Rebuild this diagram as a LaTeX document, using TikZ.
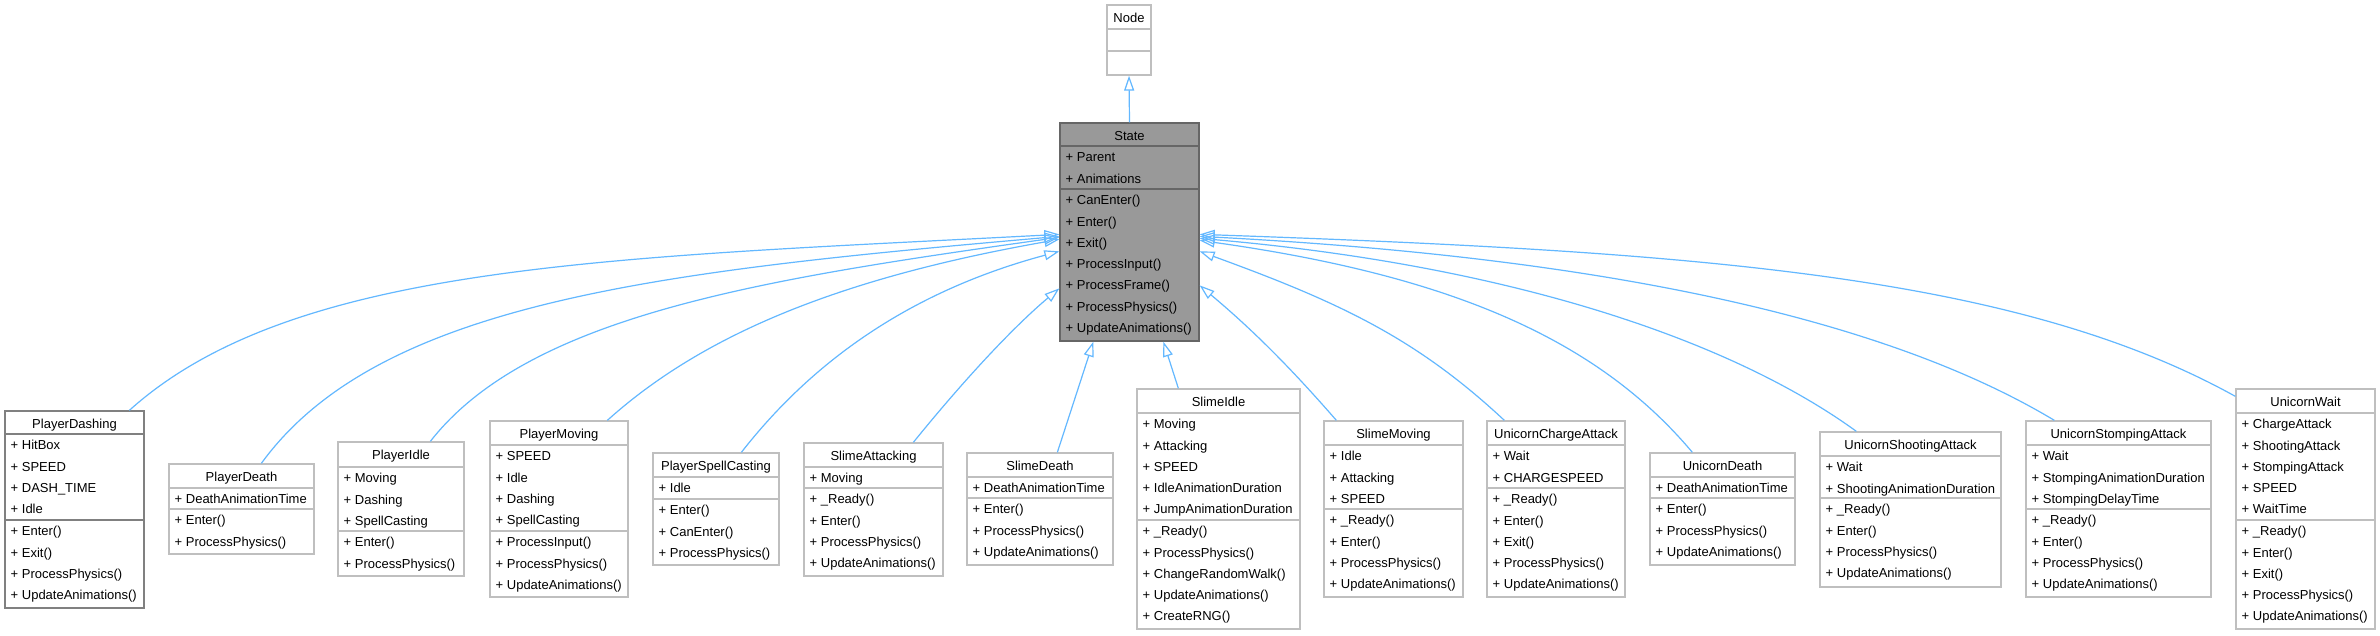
\documentclass[tikz,border=0pt]{standalone}
\usepackage{fontspec}
\setmainfont{Liberation Sans}
\usetikzlibrary{arrows.meta,fit}
\definecolor{edgec}{HTML}{63B8FF}
\definecolor{lightb}{HTML}{BFBFBF}
\definecolor{darkb}{HTML}{666666}
\definecolor{midb}{HTML}{808080}
\definecolor{statefill}{HTML}{999999}
\tikzset{
  lightbox/.style={draw=lightb, fill=white, line width=1.3pt},
  darkbox/.style={draw=midb, fill=white, line width=1.3pt},
  statebox/.style={draw=darkb, fill=statefill, line width=1.3pt},
  txt/.style={inner sep=0pt, font=\fontsize{13}{15}\selectfont},
  titletext/.style={txt, anchor=base},
  membertext/.style={txt, anchor=base west},
  edge/.style={draw=edgec, line width=1.2pt, -{Triangle[open, length=15pt, width=10pt]}}
}
% #1 name, #2 style, #3 left, #4 right, #5 top, #6 title divider, #7 member divider, #8 bottom, #9 title
\newcommand\umlbox[9]{%
  \coordinate (#1-nw) at (#3,-#5);
  \coordinate (#1-se) at (#4,-#8);
  \node[#2, fit=(#1-nw)(#1-se), inner sep=0pt] (#1) {};
  \draw[#2, fill=none] (#3,-#6) -- (#4,-#6);
  \draw[#2, fill=none] (#3,-#7) -- (#4,-#7);
  \node[titletext] (#1-title) at ({(#3+#4)/2},{-(#5+17.5)}) {#9};
}
% #1 name, #2 left, #3 section top, #4 list
\newcommand\umlmembers[4]{%
  \foreach \t [count=\i from 0] in {#4} {
    \node[membertext] (#1-#3-\i) at ({#2+5.5},{-(#3+15.7+21.3*\i)}) {+ \t};
  }
}
\begin{document}
\begin{tikzpicture}[x=1pt, y=1pt]
\useasboundingbox (0,0) rectangle (2380,-635);
\fill[white] (0,0) rectangle (2380,-635);

\umlbox{Node}{lightbox}{1107}{1151}{5}{29}{51}{75}{Node}

\umlbox{State}{statebox}{1060}{1199}{123}{146}{189}{341}{State}
\umlmembers{State}{1060}{146}{Parent,Animations}
\umlmembers{State}{1060}{189}{CanEnter(),Enter(),Exit(),ProcessInput(),ProcessFrame(),ProcessPhysics(),UpdateAnimations()}

\umlbox{PlayerDashing}{darkbox}{5}{144}{411}{434}{520}{608}{PlayerDashing}
\umlmembers{PlayerDashing}{5}{434}{HitBox,SPEED,DASH\_TIME,Idle}
\umlmembers{PlayerDashing}{5}{520}{Enter(),Exit(),ProcessPhysics(),UpdateAnimations()}

\umlbox{PlayerDeath}{lightbox}{169}{314}{464}{488}{509}{554}{PlayerDeath}
\umlmembers{PlayerDeath}{169}{488}{DeathAnimationTime}
\umlmembers{PlayerDeath}{169}{509}{Enter(),ProcessPhysics()}

\umlbox{PlayerIdle}{lightbox}{338}{464}{442}{467}{531}{576}{PlayerIdle}
\umlmembers{PlayerIdle}{338}{467}{Moving,Dashing,SpellCasting}
\umlmembers{PlayerIdle}{338}{531}{Enter(),ProcessPhysics()}

\umlbox{PlayerMoving}{lightbox}{490}{628}{421}{445}{531}{597}{PlayerMoving}
\umlmembers{PlayerMoving}{490}{445}{SPEED,Idle,Dashing,SpellCasting}
\umlmembers{PlayerMoving}{490}{531}{ProcessInput(),ProcessPhysics(),UpdateAnimations()}

\umlbox{PlayerSpellCasting}{lightbox}{653}{779}{453}{477}{499}{565}{PlayerSpellCasting}
\umlmembers{PlayerSpellCasting}{653}{477}{Idle}
\umlmembers{PlayerSpellCasting}{653}{499}{Enter(),CanEnter(),ProcessPhysics()}

\umlbox{SlimeAttacking}{lightbox}{804}{943}{443}{467}{488}{576}{SlimeAttacking}
\umlmembers{SlimeAttacking}{804}{467}{Moving}
\umlmembers{SlimeAttacking}{804}{488}{\_Ready(),Enter(),ProcessPhysics(),UpdateAnimations()}

\umlbox{SlimeDeath}{lightbox}{967}{1113}{453}{477}{498}{565}{SlimeDeath}
\umlmembers{SlimeDeath}{967}{477}{DeathAnimationTime}
\umlmembers{SlimeDeath}{967}{498}{Enter(),ProcessPhysics(),UpdateAnimations()}

\umlbox{SlimeIdle}{lightbox}{1137}{1300}{389}{413}{520}{629}{SlimeIdle}
\umlmembers{SlimeIdle}{1137}{413}{Moving,Attacking,SPEED,IdleAnimationDuration,JumpAnimationDuration}
\umlmembers{SlimeIdle}{1137}{520}{\_Ready(),ProcessPhysics(),ChangeRandomWalk(),UpdateAnimations(),CreateRNG()}

\umlbox{SlimeMoving}{lightbox}{1324}{1463}{421}{445}{509}{597}{SlimeMoving}
\umlmembers{SlimeMoving}{1324}{445}{Idle,Attacking,SPEED}
\umlmembers{SlimeMoving}{1324}{509}{\_Ready(),Enter(),ProcessPhysics(),UpdateAnimations()}

\umlbox{UnicornChargeAttack}{lightbox}{1487}{1625}{421}{445}{488}{597}{UnicornChargeAttack}
\umlmembers{UnicornChargeAttack}{1487}{445}{Wait,CHARGESPEED}
\umlmembers{UnicornChargeAttack}{1487}{488}{\_Ready(),Enter(),Exit(),ProcessPhysics(),UpdateAnimations()}

\umlbox{UnicornDeath}{lightbox}{1650}{1795}{453}{477}{498}{565}{UnicornDeath}
\umlmembers{UnicornDeath}{1650}{477}{DeathAnimationTime}
\umlmembers{UnicornDeath}{1650}{498}{Enter(),ProcessPhysics(),UpdateAnimations()}

\umlbox{UnicornShootingAttack}{lightbox}{1820}{2001}{432}{456}{498}{587}{UnicornShootingAttack}
\umlmembers{UnicornShootingAttack}{1820}{456}{Wait,ShootingAnimationDuration}
\umlmembers{UnicornShootingAttack}{1820}{498}{\_Ready(),Enter(),ProcessPhysics(),UpdateAnimations()}

\umlbox{UnicornStompingAttack}{lightbox}{2026}{2211}{421}{445}{509}{597}{UnicornStompingAttack}
\umlmembers{UnicornStompingAttack}{2026}{445}{Wait,StompingAnimationDuration,StompingDelayTime}
\umlmembers{UnicornStompingAttack}{2026}{509}{\_Ready(),Enter(),ProcessPhysics(),UpdateAnimations()}

\umlbox{UnicornWait}{lightbox}{2236}{2375}{389}{413}{520}{629}{UnicornWait}
\umlmembers{UnicornWait}{2236}{413}{ChargeAttack,ShootingAttack,StompingAttack,SPEED,WaitTime}
\umlmembers{UnicornWait}{2236}{520}{\_Ready(),Enter(),Exit(),ProcessPhysics(),UpdateAnimations()}

% inheritance edges
\draw[edge] (State.north) -- (Node.south);

\draw[edge] ([xshift=125pt]PlayerDashing.north west) .. controls +(42:220) and +(183:450) .. ([yshift=-112pt]State.north west);
\draw[edge] ([xshift=93pt]PlayerDeath.north west) .. controls +(54:200) and +(185:400) .. ([yshift=-114pt]State.north west);
\draw[edge] ([xshift=93pt]PlayerIdle.north west) .. controls +(52:160) and +(188:300) .. ([yshift=-115pt]State.north west);
\draw[edge] ([xshift=118pt]PlayerMoving.north west) .. controls +(42:130) and +(190:220) .. ([yshift=-117pt]State.north west);
\draw[edge] ([xshift=89pt]PlayerSpellCasting.north west) .. controls +(52:120) and +(195:150) .. ([yshift=-129pt]State.north west);
\draw[edge] ([xshift=110pt]SlimeAttacking.north west) .. controls +(51:80) and +(220:60) .. ([yshift=-166pt]State.north west);
\draw[edge] ([xshift=91pt]SlimeDeath.north west) -- ([xshift=34pt]State.south west);
\draw[edge] ([xshift=42pt]SlimeIdle.north west) -- ([xshift=104pt]State.south west);

\draw[edge] ([xshift=13pt]SlimeMoving.north west) .. controls +(131:80) and +(320:60) .. ([yshift=-163pt]State.north east);
\draw[edge] ([xshift=18pt]UnicornChargeAttack.north west) .. controls +(137:120) and +(340:150) .. ([yshift=-129pt]State.north east);
\draw[edge] ([xshift=43pt]UnicornDeath.north west) .. controls +(130:150) and +(352:250) .. ([yshift=-118pt]State.north east);
\draw[edge] ([xshift=37pt]UnicornShootingAttack.north west) .. controls +(144:150) and +(355:320) .. ([yshift=-116pt]State.north east);
\draw[edge] ([xshift=29pt]UnicornStompingAttack.north west) .. controls +(149:200) and +(357:400) .. ([yshift=-114pt]State.north east);
\draw[edge] ([yshift=-8pt]UnicornWait.north west) .. controls +(151:250) and +(358:500) .. ([yshift=-112pt]State.north east);
\end{tikzpicture}
\end{document}
